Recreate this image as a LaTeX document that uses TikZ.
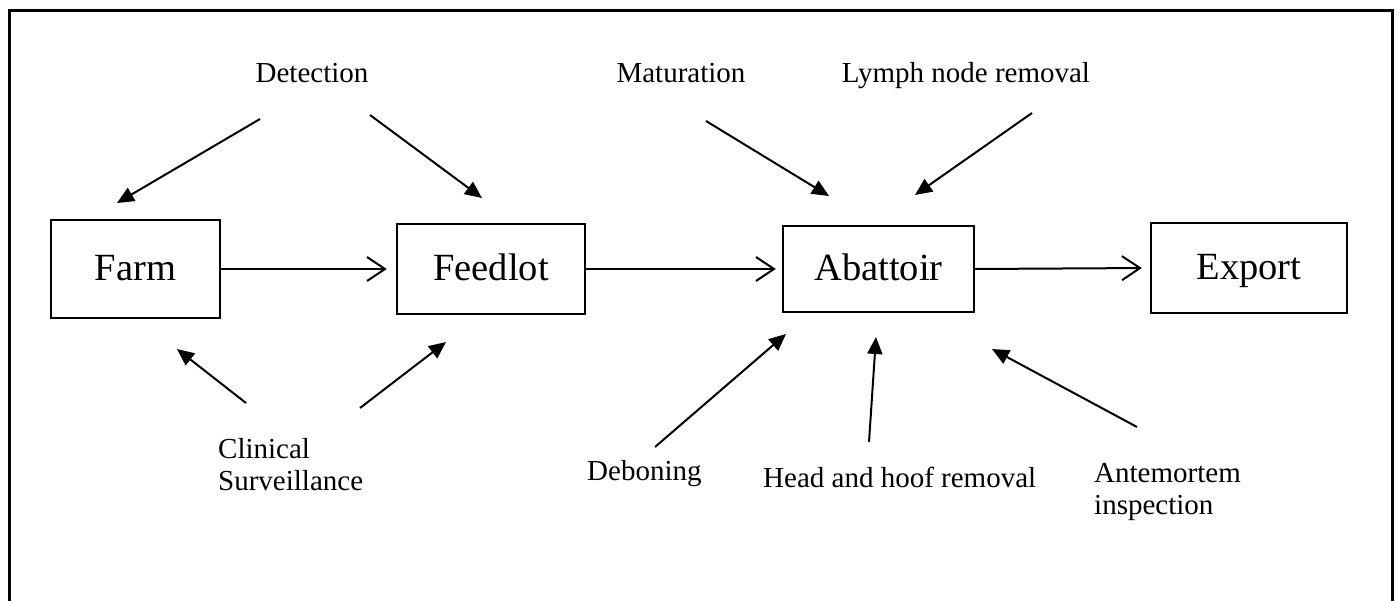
\documentclass[tikz,border=0pt]{standalone}
\usepackage{fontspec}
\setmainfont{Liberation Serif}
\usetikzlibrary{arrows.meta}
\tikzset{
  stage/.style={draw, line width=2.4pt, inner sep=0pt, text height=25pt, text depth=1pt, font=\fontsize{38.5}{42}\selectfont},
  lbl/.style={inner sep=0pt, font=\fontsize{29}{32}\selectfont},
  flow/.style={line width=2pt, -{Straight Barb[length=18pt,width=24pt,line width=2pt]}},
  cause/.style={line width=2pt, -{Triangle[length=17pt,width=15pt]}},
  frame/.style={line width=3pt}
}
\begin{document}
\begin{tikzpicture}[x=1pt,y=-1pt]
\useasboundingbox (0,0) rectangle (1399,601);
\draw[frame] (9,601) -- (9,11) -- (1392,11) -- (1392,601);

% stages
\node[stage, minimum width=169pt, minimum height=98pt] (farm) at (135.5,269) {Farm};
\node[stage, minimum width=188pt, minimum height=90pt] (feedlot) at (491,269) {Feedlot};
\node[stage, minimum width=191pt, minimum height=86pt] (abattoir) at (878.5,269) {Abattoir};
\node[stage, minimum width=196pt, minimum height=90pt] (export) at (1249,268) {Export};

% flow arrows
\draw[flow, shorten >=9pt] (farm.east) -- (feedlot.west);
\draw[flow, shorten >=6pt] (feedlot.east) -- (abattoir.west);
\draw[flow, shorten >=8pt] (abattoir.east) -- (export.west);

% labels
\node[lbl, anchor=base] (detection) at (312,83) {Detection};
\node[lbl, anchor=base] (maturation) at (681,83) {Maturation};
\node[lbl, anchor=base] (lymph) at (966,83) {Lymph node removal};
\node[lbl, anchor=base west, align=left] (clinical) at (218,490) {Clinical\\Surveillance};
\node[lbl, anchor=base west] (deboning) at (587,480) {Deboning};
\node[lbl, anchor=base west] (headhoof) at (763,487) {Head and hoof removal};
\node[lbl, anchor=base west, align=left] (antemortem) at (1094,514) {Antemortem\\inspection};

% connector end points
\coordinate (det1) at (260,119);  \coordinate (farmT) at (117,203);
\coordinate (det2) at (370,115);  \coordinate (feedT) at (482,198);
\coordinate (mat1) at (706,121);  \coordinate (abaT1) at (829,196);
\coordinate (lym1) at (1032,113); \coordinate (abaT2) at (915,195);
\coordinate (cli1) at (246,403);  \coordinate (farmB) at (177,349);
\coordinate (cli2) at (360,408);  \coordinate (feedB) at (446,342);
\coordinate (deb1) at (655,447);  \coordinate (abaB1) at (786,334);
\coordinate (hh1) at (869,442);   \coordinate (abaB2) at (876,337);
\coordinate (ant1) at (1137,427); \coordinate (abaB3) at (992,349);

\draw[cause] (det1) -- (farmT);
\draw[cause] (det2) -- (feedT);
\draw[cause] (mat1) -- (abaT1);
\draw[cause] (lym1) -- (abaT2);
\draw[cause] (cli1) -- (farmB);
\draw[cause] (cli2) -- (feedB);
\draw[cause] (deb1) -- (abaB1);
\draw[cause] (hh1) -- (abaB2);
\draw[cause] (ant1) -- (abaB3);
\end{tikzpicture}
\end{document}
